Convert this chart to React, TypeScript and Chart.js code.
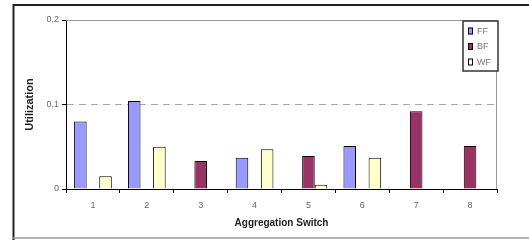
import React, { useEffect, useRef } from 'react';
import { Chart, registerables } from 'chart.js';

Chart.register(...registerables);

const categories = ['1', '2', '3', '4', '5', '6', '7', '8'];
const seriesLabels = ['FF', 'BF', 'WF'];
const ffValues = [0.08, 0.104, null, 0.037, null, 0.051, null, null];
const bfValues = [null, null, 0.033, null, 0.039, null, 0.092, 0.051];
const wfValues = [0.015, 0.05, null, 0.047, 0.005, 0.037, null, null];
const seriesColors = ['#9999FF', '#993366', '#FFFFCC'];
const yMin = 0;
const yMax = 0.2;
const yStep = 0.1;
const xTitle = 'Aggregation Switch';
const yTitle = 'Utilization';

const FONT = 'Arial, "Liberation Sans", sans-serif';

const framePlugin = {
  id: 'frame',
  beforeDraw(chart: any) {
    const { ctx, width, height } = chart;
    ctx.save();
    ctx.fillStyle = '#ffffff';
    ctx.fillRect(0, 0, width, height);
    ctx.strokeStyle = '#222';
    ctx.lineWidth = 2;
    ctx.beginPath();
    ctx.moveTo(13.5, height);
    ctx.lineTo(13.5, 5);
    ctx.lineTo(width, 5);
    ctx.stroke();
    ctx.strokeStyle = '#999';
    ctx.lineWidth = 1.5;
    ctx.beginPath();
    ctx.moveTo(13, 238);
    ctx.lineTo(width, 238);
    ctx.stroke();
    ctx.restore();
  },
  beforeDatasetsDraw(chart: any) {
    const { ctx, chartArea } = chart;
    ctx.save();
    ctx.strokeStyle = '#999';
    ctx.lineWidth = 1;
    ctx.beginPath();
    ctx.moveTo(chartArea.left, chartArea.top + 0.5);
    ctx.lineTo(chartArea.right - 0.5, chartArea.top + 0.5);
    ctx.lineTo(chartArea.right - 0.5, chartArea.bottom);
    ctx.stroke();
    ctx.restore();
  },
};

const legendPlugin = {
  id: 'boxLegend',
  afterDraw(chart: any) {
    const { ctx, chartArea } = chart;
    const datasets = chart.data.datasets;
    const boxW = 35;
    const rowH = 15.5;
    const boxH = 50;
    const x = chartArea.right - boxW + 1;
    const y = chartArea.top + 1;
    ctx.save();
    ctx.fillStyle = '#fff';
    ctx.fillRect(x, y, boxW, boxH);
    ctx.strokeStyle = '#333';
    ctx.lineWidth = 1.5;
    ctx.strokeRect(x, y, boxW, boxH);
    ctx.font = `9px ${FONT}`;
    ctx.textBaseline = 'middle';
    ctx.textAlign = 'left';
    datasets.forEach((ds: any, i: number) => {
      const cy = y + 10 + i * rowH;
      ctx.fillStyle = ds.backgroundColor;
      ctx.fillRect(x + 5, cy - 3.5, 5, 7);
      ctx.strokeStyle = '#000';
      ctx.lineWidth = 1;
      ctx.strokeRect(x + 5.5, cy - 3, 4, 6);
      ctx.fillStyle = '#777';
      ctx.fillText(ds.label, x + 14, cy + 0.5);
    });
    ctx.restore();
  },
};

export default function App() {
  const ref = useRef<HTMLCanvasElement>(null);
  useEffect(() => {
    document.body.style.margin = '0';
    const canvas = ref.current!;
    const values = [ffValues, bfValues, wfValues];
    const chart = new Chart(canvas, {
      type: 'bar',
      data: {
        labels: categories,
        datasets: seriesLabels.map((label, i) => ({
          label,
          data: values[i] as any,
          backgroundColor: seriesColors[i],
          borderColor: '#000',
          borderWidth: 1,
          categoryPercentage: 0.7,
          barPercentage: 1,
          skipNull: false,
        })),
      },
      options: {
        animation: false,
        responsive: false,
        devicePixelRatio: 1,
        layout: { padding: { left: 14, right: 32, top: 20, bottom: 2 } },
        plugins: {
          legend: { display: false },
          tooltip: { enabled: false },
        },
        scales: {
          x: {
            grid: {
              offset: true,
              drawOnChartArea: false,
              color: 'rgba(0,0,0,0)',
              tickColor: '#000',
              tickLength: 4,
            },
            border: { color: '#000', width: 1 },
            ticks: { color: '#666', font: { family: FONT, size: 9 }, padding: 7, maxRotation: 0 },
            title: {
              display: true,
              text: xTitle,
              color: '#222',
              font: { family: FONT, size: 10, weight: 'bold' },
              padding: 9,
            },
            afterFit(scale: any) {
              scale.height = 49;
            },
          },
          y: {
            min: yMin,
            max: yMax,
            grid: {
              color: (c: any) =>
                c.tick && Math.abs(c.tick.value - 0.1) < 1e-9 ? '#aaa' : 'rgba(0,0,0,0)',
              tickColor: '#000',
              tickLength: 4,
            },
            border: { color: '#000', width: 1, dash: [7, 5] },
            ticks: {
              stepSize: yStep,
              color: '#666',
              font: { family: FONT, size: 9 },
              padding: 3,
              callback: (v: any) => (Number(v) === 0 ? '0' : Number(v).toFixed(1).replace('.', ',')),
            },
            title: {
              display: true,
              text: yTitle,
              color: '#222',
              font: { family: FONT, size: 11, weight: 'bold' },
              padding: 9,
            },
            afterFit(scale: any) {
              scale.width = 52;
            },
          },
        },
      } as any,
      plugins: [framePlugin, legendPlugin],
    });
    return () => chart.destroy();
  }, []);
  return (
    <div style={{ width: 529, height: 240 }}>
      <canvas ref={ref} width={529} height={240} style={{ display: 'block' }} />
    </div>
  );
}
